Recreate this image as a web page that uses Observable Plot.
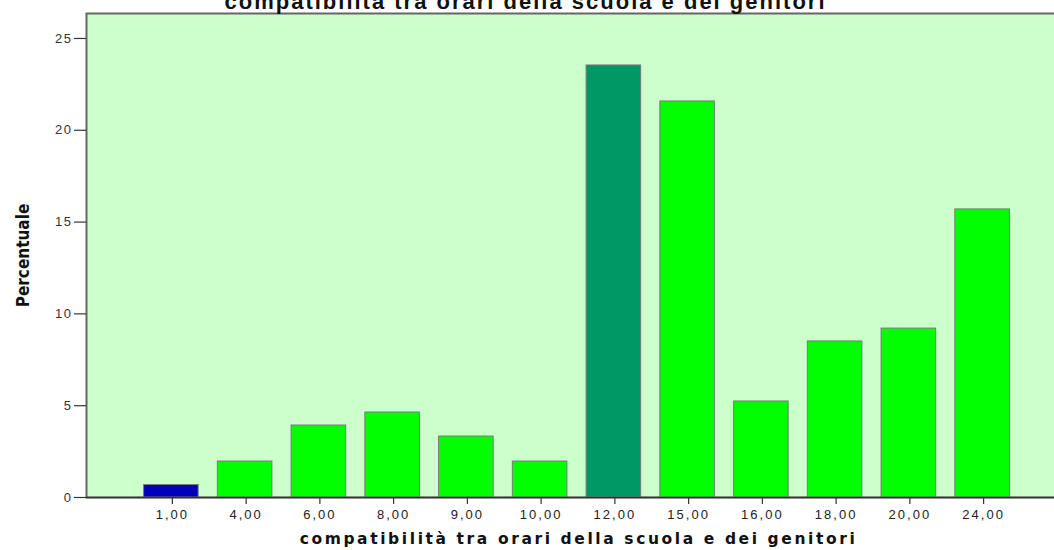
<!DOCTYPE html>
<html><head><meta charset="utf-8">
<script src="https://cdn.jsdelivr.net/npm/d3@7"></script>
<script src="https://cdn.jsdelivr.net/npm/@observablehq/plot@0.6"></script>
<style>body{margin:0;background:#fff;overflow:hidden}</style>
</head><body><div id="chart"></div>
<script>
const categories = ["1,00","4,00","6,00","8,00","9,00","10,00","12,00","15,00","16,00","18,00","20,00","24,00"];
const values = [0.68, 1.96, 3.92, 4.63, 3.32, 1.96, 23.53, 21.57, 5.23, 8.50, 9.20, 15.69];
const barColors = ["#0000bb","#00ff00","#00ff00","#00ff00","#00ff00","#00ff00","#009966","#00ff00","#00ff00","#00ff00","#00ff00","#00ff00"];
const yTicks = [0, 5, 10, 15, 20, 25];
const title = "compatibilità tra orari della scuola e dei genitori";
const xLabel = "compatibilità tra orari della scuola e dei genitori";
const yLabel = "Percentuale";

const data = categories.map((c, i) => ({cat: c, val: values[i], color: barColors[i]}));

const chart = Plot.plot({
  width: 1054, height: 550,
  marginLeft: 86, marginRight: 0, marginTop: 13, marginBottom: 53,
  style: {background: "#fff", overflow: "visible"},
  x: {domain: categories, paddingInner: 0.26, paddingOuter: 0.13, round: false, insetLeft: 48, insetRight: 35, axis: null},
  y: {domain: [0, 26.36], axis: null},
  marks: [
    Plot.frame({fill: "#ccffcc", stroke: "#666", strokeWidth: 2, insetRight: -6}),
    Plot.ruleX([0], {frameAnchor: "left", stroke: "#3e553e", strokeWidth: 3}),
    Plot.barY(data, {x: "cat", y: "val", fill: "color", stroke: "#7a7a7a", strokeWidth: 1}),
    Plot.ruleY([0], {stroke: "#333", strokeWidth: 1.5}),
    Plot.axisY(yTicks, {tickSize: 12, tickPadding: 2, stroke: "#333", strokeWidth: 1.2, fill: "#333", fontSize: 13, fontFamily: "Liberation Sans, Arial, sans-serif", tickFormat: d => d, label: null}),
    Plot.axisX({tickSize: 7, tickPadding: 5, stroke: "#333", strokeWidth: 1.2, fill: "#222", fontSize: 13, dx: 1, fontFamily: "Liberation Sans, Arial, sans-serif", label: null}),
    Plot.text([xLabel], {frameAnchor: "bottom", dy: 42, dx: 8, fontSize: 15.5, fontWeight: "bold", fontFamily: "DejaVu Sans", fill: "#111", lineAnchor: "middle", textAnchor: "middle"}),
    Plot.text([yLabel], {frameAnchor: "left", dx: -63, rotate: -90, textAnchor: "middle", lineAnchor: "middle", fontSize: 17, fontWeight: "bold", fontFamily: "Liberation Sans Narrow, DejaVu Sans Condensed, sans-serif", fill: "#111"}),
    Plot.text([title], {frameAnchor: "top", dy: -12, dx: -45, fontSize: 22, fontWeight: "bold", fontFamily: "Liberation Sans, Arial, sans-serif", fill: "#111", lineAnchor: "middle", textAnchor: "middle"})
  ]
});
document.getElementById("chart").appendChild(chart);

// letter spacing (SPSS-style wide text)
const yTickStr = yTicks.map(String);
d3.select(chart).selectAll("text").each(function() {
  const t = this.textContent;
  const s = d3.select(this);
  const fs = this.closest("g") ? this.closest("g").getAttribute("font-size") : null;
  if (categories.includes(t)) s.style("letter-spacing", "2px");
  else if (yTickStr.includes(t)) s.style("letter-spacing", "1.5px");
  else if (t === xLabel && fs === "15.5") s.style("letter-spacing", "2.6px");
  else if (t === title) s.style("letter-spacing", "2px");
});
</script>
</body></html>
